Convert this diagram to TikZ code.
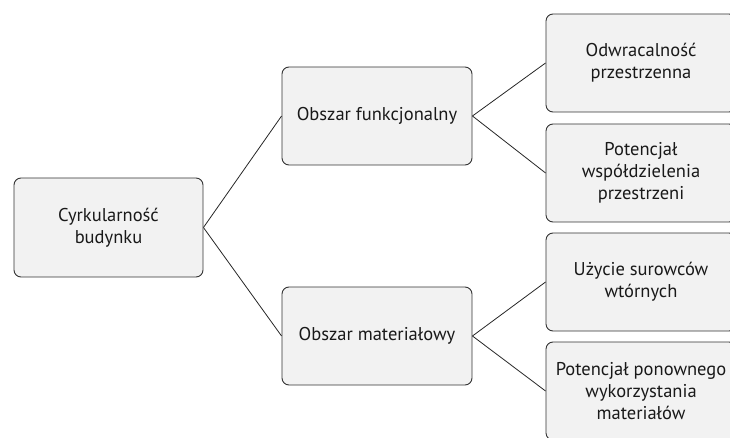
\documentclass[tikz,border=0pt]{standalone}
\usepackage{fontspec}
\setmainfont{PT Sans}
\begin{document}
\begin{tikzpicture}[x=1pt,y=-1pt,
  box/.style={draw=black!80,fill=black!5,line width=0.9pt,rounded corners=7pt,
    minimum width=190pt,minimum height=98pt,align=center,inner sep=1pt,
    font=\fontsize{18.5}{22}\selectfont,text=black!90},
  link/.style={draw=black!85,line width=0.8pt}]
\useasboundingbox (0,0) rectangle (730,438);
\clip (0,0) rectangle (730,438);
\node[box,minimum width=189pt,minimum height=99pt] (root) at (108.5,227.5) {Cyrkularność\\budynku};
\node[box] (f) at (377,116) {Obszar funkcjonalny};
\node[box] (m) at (377,336) {Obszar materiałowy};
\node[box] (r1) at (641,63) {Odwracalność\\przestrzenna};
\node[box] (r2) at (641,173) {Potencjał\\współdzielenia\\przestrzeni};
\node[box] (r3) at (641,282) {Użycie surowców\\wtórnych};
\node[box] (r4) at (641,391) {Potencjał ponownego\\wykorzystania\\materiałów};
\draw[link] (root.east) -- (f.west);
\draw[link] (root.east) -- (m.west);
\draw[link] (f.east) -- (r1.west);
\draw[link] (f.east) -- (r2.west);
\draw[link] (m.east) -- (r3.west);
\draw[link] (m.east) -- (r4.west);
\end{tikzpicture}
\end{document}
